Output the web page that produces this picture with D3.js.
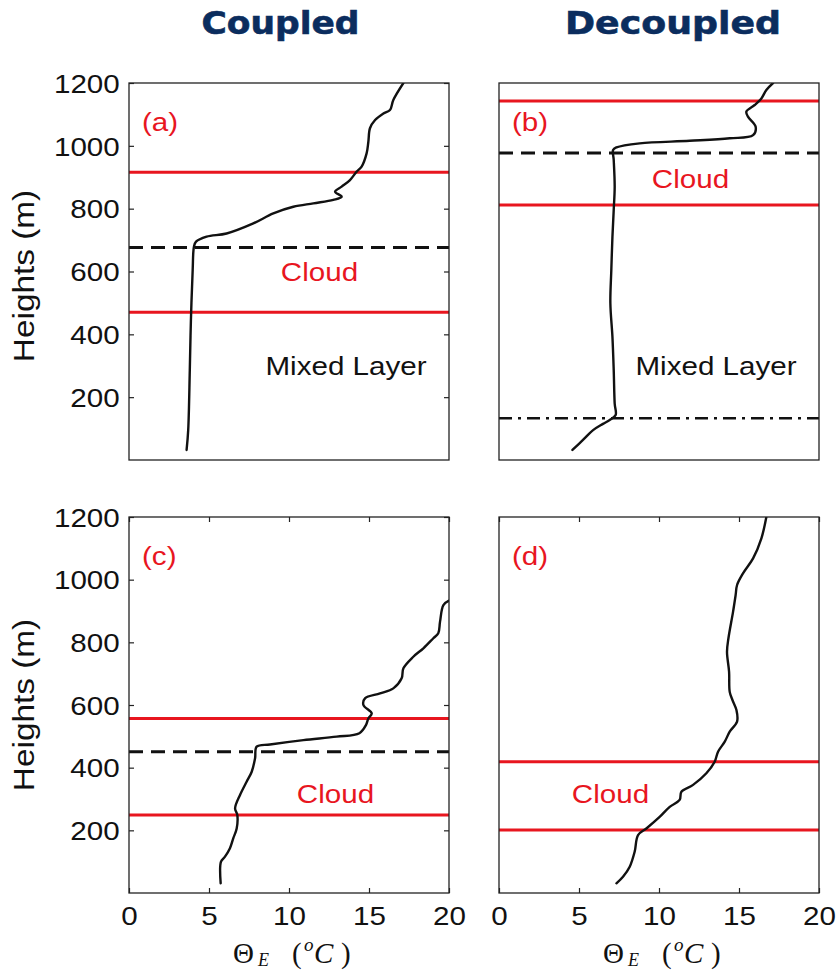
<!DOCTYPE html>
<html>
<head>
<meta charset="utf-8">
<script src="https://cdn.jsdelivr.net/npm/d3@7"></script>
<style>
  html, body { margin: 0; padding: 0; background: #fff; }
  svg { display: block; }
</style>
</head>
<body>
<svg id="chart" width="839" height="972"></svg>
<script>
// ---------------- DATA ----------------
const columnTitles = ["Coupled", "Decoupled"];
const panelLabels = ["(a)", "(b)", "(c)", "(d)"];
const xTicks = [0, 5, 10, 15, 20];
const yTicks = [200, 400, 600, 800, 1000, 1200];

// Theta_E (°C) profiles and heights (m)
const thetaA = [3.6, 3.7, 3.8, 3.87, 3.98, 4.06, 4.19, 4.85, 6.1, 7.77, 9.02, 10.27, 11.52, 12.77, 13.29, 12.88, 13.29, 13.81, 14.23, 14.54, 14.85, 14.96, 15.06, 15.38, 15.9, 16.31, 16.52, 17.15];
const heightA = [32, 95, 286, 446, 605, 679, 695, 711, 721, 753, 785, 806, 817, 828, 838, 854, 870, 891, 918, 934, 976, 1013, 1056, 1082, 1103, 1114, 1146, 1200];

const thetaB = [4.59, 5.25, 5.88, 6.5, 6.92, 7.29, 7.23, 7.17, 7.09, 6.96, 7.02, 7.09, 7.17, 7.23, 7.17, 7.13, 7.34, 8.79, 11.92, 14.42, 15.88, 16.04, 15.56, 15.46, 15.98, 16.4, 16.71, 17.13];
const heightB = [32, 64, 95, 115, 127, 143, 180, 286, 392, 499, 605, 711, 796, 870, 955, 987, 995, 1008, 1016, 1024, 1034, 1061, 1093, 1109, 1130, 1151, 1178, 1200];

const thetaC = [5.73, 5.75, 6.0, 6.31, 6.52, 6.73, 6.77, 6.63, 6.94, 7.35, 7.67, 7.88, 7.98, 8.81, 10.9, 12.98, 14.4, 14.81, 14.96, 15.17, 14.65, 14.75, 15.69, 16.52, 17.04, 17.15, 17.77, 18.4, 19.02, 19.33, 19.44, 19.65, 20.0];
const heightC = [31, 100, 116, 143, 175, 206, 249, 270, 313, 355, 387, 430, 467, 474, 488, 499, 510, 536, 557, 573, 600, 621, 637, 653, 685, 717, 754, 781, 813, 829, 866, 919, 933];

const thetaD = [7.34, 7.75, 8.17, 8.48, 8.69, 9.21, 10.04, 10.67, 11.29, 11.4, 12.13, 12.96, 13.48, 13.69, 14.11, 14.42, 14.88, 14.84, 14.59, 14.42, 14.38, 14.25, 14.34, 14.63, 14.79, 14.88, 15.25, 15.88, 16.4, 16.71];
const heightD = [31, 52, 84, 132, 185, 206, 243, 275, 297, 323, 345, 382, 419, 451, 483, 515, 547, 584, 616, 642, 706, 770, 813, 898, 951, 983, 1020, 1068, 1132, 1200];

// reference heights (m) per panel a,b,c,d
const cloudTop   = [916, 1143, 557, 419];
const cloudBase  = [470, 812, 249, 201];
const inversion  = [676, 977, 451, null];
const decoupling = [null, 133, null, null];

const profilesTheta  = [thetaA, thetaB, thetaC, thetaD];
const profilesHeight = [heightA, heightB, heightC, heightD];

// ---------------- LAYOUT ----------------
const svg = d3.select("#chart");
const RED = "#e8161f";
const SANS = "'Liberation Sans', Arial, Helvetica, sans-serif";
const SERIF = "'Liberation Serif', 'Times New Roman', serif";
const SX = 1.16; // horizontal text stretch seen in the reference

const colX = [[129, 449], [499, 819]];
const rowY = [[460, 83], [893, 517]];

// panel config: which ticks are drawn
const panelCfg = [
  { col: 0, row: 0, yTicksOn: true,  xTicksOn: false, yLabels: true,  xLabels: false },
  { col: 1, row: 0, yTicksOn: false, xTicksOn: false, yLabels: false, xLabels: false },
  { col: 0, row: 1, yTicksOn: true,  xTicksOn: true,  yLabels: true,  xLabels: true },
  { col: 1, row: 1, yTicksOn: false, xTicksOn: true,  yLabels: false, xLabels: true }
];

function sText(g, x, y, str, o) {
  return g.append("text")
    .attr("transform", `translate(${x},${y}) scale(${o.sx ?? SX},1)`)
    .attr("text-anchor", o.anchor || "start")
    .attr("font-family", o.family || SANS)
    .attr("font-size", o.size || 25.5)
    .attr("font-weight", o.weight || "normal")
    .attr("font-style", o.style || "normal")
    .attr("fill", o.fill || "#111")
    .text(str);
}

const defs = svg.append("defs");

panelCfg.forEach((cfg, i) => {
  const x = d3.scaleLinear().domain([0, 20]).range(colX[cfg.col]);
  const y = d3.scaleLinear().domain([0, 1200]).range(rowY[cfg.row]);
  const g = svg.append("g");
  const [x0, x1] = x.range();
  const [y0, y1] = y.range();

  defs.append("clipPath").attr("id", "clip" + i)
    .append("rect").attr("x", x0).attr("y", y1).attr("width", x1 - x0).attr("height", y0 - y1);

  const axL = d3.axisLeft(y).tickValues(yTicks).tickSizeInner(cfg.yTicksOn ? -5 : 0).tickSizeOuter(0).tickPadding(8)
    .tickFormat(cfg.yLabels ? d3.format("d") : () => "");
  const gl = g.append("g").attr("transform", `translate(${x0},0)`).call(axL);
  const axR = d3.axisRight(y).tickValues(yTicks).tickSizeInner(cfg.yTicksOn ? -5 : 0).tickSizeOuter(0).tickFormat(() => "");
  const gr = g.append("g").attr("transform", `translate(${x1},0)`).call(axR);
  const axB = d3.axisBottom(x).tickValues(xTicks).tickSizeInner(cfg.xTicksOn ? -5 : 0).tickSizeOuter(0).tickPadding(14)
    .tickFormat(cfg.xLabels ? d3.format("d") : () => "");
  const gb = g.append("g").attr("transform", `translate(0,${y0})`).call(axB);
  const axT = d3.axisTop(x).tickValues(xTicks).tickSizeInner(cfg.xTicksOn ? -5 : 0).tickSizeOuter(0).tickFormat(() => "");
  const gt = g.append("g").attr("transform", `translate(0,${y1})`).call(axT);

  [gl, gr, gb, gt].forEach(a => {
    a.select(".domain").remove();
    a.selectAll("line").attr("stroke", "#222").attr("stroke-width", 1.2);
    a.selectAll("text")
      .attr("font-family", SANS).attr("font-size", 25.5).attr("fill", "#111")
      .attr("transform", `scale(${SX},1)`);
  });
  gl.selectAll("text").attr("dy", "0.36em");

  const clip = g.append("g").attr("clip-path", `url(#clip${i})`);

  const hline = (h, stroke, dash, w) => clip.append("line")
    .attr("x1", x0).attr("x2", x1).attr("y1", y(h)).attr("y2", y(h))
    .attr("stroke", stroke).attr("stroke-width", w).attr("stroke-dasharray", dash);

  if (cloudTop[i] != null) hline(cloudTop[i], RED, null, 3);
  if (cloudBase[i] != null) hline(cloudBase[i], RED, null, 3);
  if (inversion[i] != null) hline(inversion[i], "#111", "14,8", 3);
  if (decoupling[i] != null) hline(decoupling[i], "#111", "13,6,3,6", 2.6);

  const pts = profilesTheta[i].map((t, k) => [t, profilesHeight[i][k]]);
  clip.append("path").datum(pts)
    .attr("fill", "none").attr("stroke", "#111").attr("stroke-width", 2.4)
    .attr("stroke-linejoin", "round").attr("stroke-linecap", "round")
    .attr("d", d3.line().x(d => x(d[0])).y(d => y(d[1])).curve(d3.curveCatmullRom.alpha(0.5)));

  g.append("rect").attr("x", x0).attr("y", y1).attr("width", x1 - x0).attr("height", y0 - y1)
    .attr("fill", "none").attr("stroke", "#222").attr("stroke-width", 1.3);

  sText(g, x0 + 13, y1 + 48, panelLabels[i], { fill: RED });
});

// annotations
sText(svg, 319.5, 281, "Cloud", { anchor: "middle", fill: RED });
sText(svg, 346, 375, "Mixed Layer", { anchor: "middle" });
sText(svg, 690.5, 188, "Cloud", { anchor: "middle", fill: RED });
sText(svg, 716, 375, "Mixed Layer", { anchor: "middle" });
sText(svg, 335.5, 803, "Cloud", { anchor: "middle", fill: RED });
sText(svg, 610.5, 803, "Cloud", { anchor: "middle", fill: RED });

// column titles
const titleCx = [280.5, 673];
const titleLen = [158, 216];
columnTitles.forEach((t, k) => {
  svg.append("text")
    .attr("x", titleCx[k]).attr("y", 34)
    .attr("text-anchor", "middle")
    .attr("font-family", "'DejaVu Sans', Verdana, sans-serif")
    .attr("font-weight", "bold").attr("font-size", 32)
    .attr("fill", "#0b2d5e")
    .attr("stroke", "#0b2d5e").attr("stroke-width", 0.6)
    .attr("textLength", titleLen[k]).attr("lengthAdjust", "spacingAndGlyphs")
    .text(t);
});

// y axis titles
[[24, 276], [24, 705]].forEach(([cx, cy]) => {
  svg.append("text")
    .attr("transform", `translate(${cx + 10},${cy}) rotate(-90) scale(1.15,1)`)
    .attr("text-anchor", "middle")
    .attr("font-family", SANS).attr("font-size", 29).attr("fill", "#111")
    .text("Heights (m)");
});

// x axis titles: Θ_E (°C)
[289, 659].forEach(c => {
  const g = svg.append("g").attr("font-family", SERIF).attr("fill", "#111");
  g.append("text").attr("x", c - 56).attr("y", 963).attr("font-size", 29).text("Θ");
  g.append("text").attr("x", c - 31).attr("y", 966).attr("font-size", 18).attr("font-style", "italic").text("E");
  g.append("text").attr("x", c + 3).attr("y", 963).attr("font-size", 29).text("(");
  g.append("text").attr("x", c + 15).attr("y", 951).attr("font-size", 19).attr("font-style", "italic").text("o");
  g.append("text").attr("x", c + 25).attr("y", 963).attr("font-size", 29).attr("font-style", "italic").text("C");
  g.append("text").attr("x", c + 52).attr("y", 963).attr("font-size", 29).text(")");
});
</script>
</body>
</html>
